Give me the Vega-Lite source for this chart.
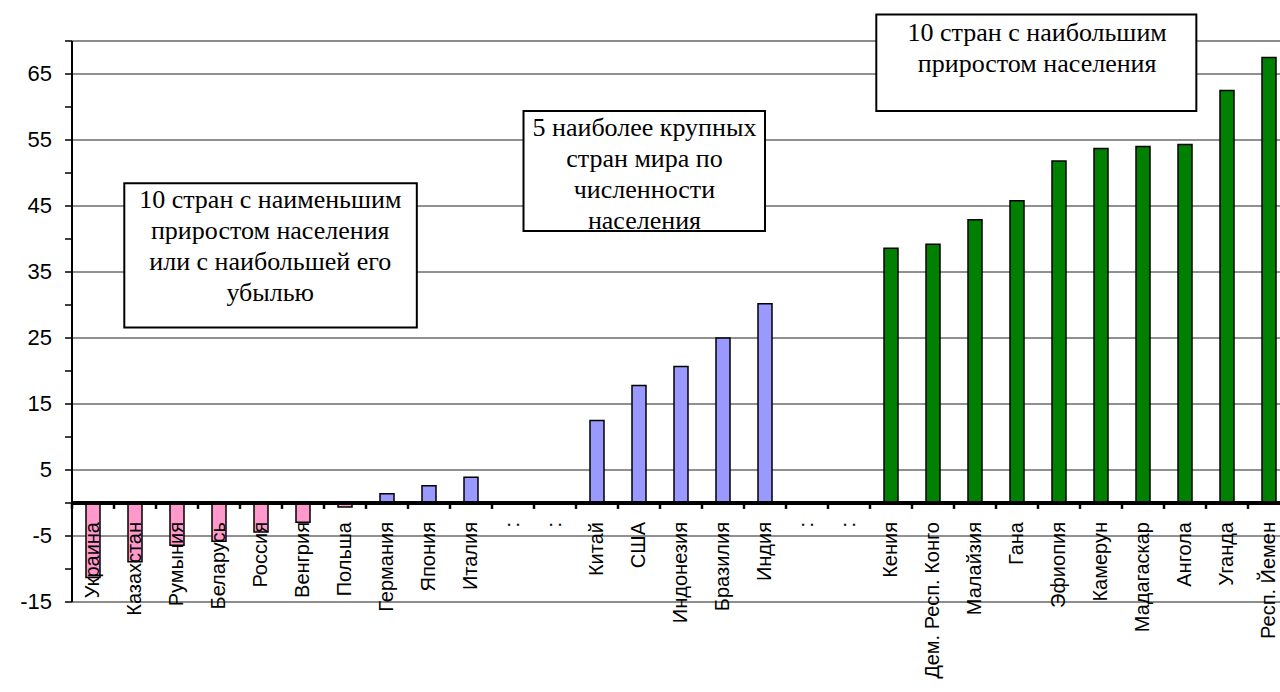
{
  "$schema": "https://vega.github.io/schema/vega-lite/v6.json",
  "width": 1218,
  "height": 561,
  "padding": {"left": 20, "top": 13, "right": 0, "bottom": 0},
  "background": "white",
  "config": {"view": {"stroke": null}},
  "datasets": {
    "countries": [
      {"country": "Украина", "value": -11.3, "group": "neg"},
      {"country": "Казахстан", "value": -8.9, "group": "neg"},
      {"country": "Румыния", "value": -6.4, "group": "neg"},
      {"country": "Беларусь", "value": -5.8, "group": "neg"},
      {"country": "Россия", "value": -4.4, "group": "neg"},
      {"country": "Венгрия", "value": -2.9, "group": "neg"},
      {"country": "Польша", "value": -0.6, "group": "neg"},
      {"country": "Германия", "value": 1.4, "group": "pos"},
      {"country": "Япония", "value": 2.6, "group": "pos"},
      {"country": "Италия", "value": 3.9, "group": "pos"},
      {"country": ":", "value": null, "group": "gap"},
      {"country": ":\u200b", "value": null, "group": "gap"},
      {"country": "Китай", "value": 12.5, "group": "pos"},
      {"country": "США", "value": 17.8, "group": "pos"},
      {"country": "Индонезия", "value": 20.7, "group": "pos"},
      {"country": "Бразилия", "value": 25.0, "group": "pos"},
      {"country": "Индия", "value": 30.2, "group": "pos"},
      {"country": ":\u200b\u200b", "value": null, "group": "gap"},
      {"country": ":\u200b\u200b\u200b", "value": null, "group": "gap"},
      {"country": "Кения", "value": 38.6, "group": "top"},
      {"country": "Дем. Респ. Конго", "value": 39.2, "group": "top"},
      {"country": "Малайзия", "value": 42.9, "group": "top"},
      {"country": "Гана", "value": 45.8, "group": "top"},
      {"country": "Эфиопия", "value": 51.8, "group": "top"},
      {"country": "Камерун", "value": 53.7, "group": "top"},
      {"country": "Мадагаскар", "value": 54.0, "group": "top"},
      {"country": "Ангола", "value": 54.3, "group": "top"},
      {"country": "Уганда", "value": 62.5, "group": "top"},
      {"country": "Респ. Йемен", "value": 67.5, "group": "top"}
    ],
    "yticks": [
      {"v": -15, "label": "-15"}, {"v": -10, "label": ""}, {"v": -5, "label": "-5"}, {"v": 0, "label": ""},
      {"v": 5, "label": "5"}, {"v": 10, "label": ""}, {"v": 15, "label": "15"}, {"v": 20, "label": ""},
      {"v": 25, "label": "25"}, {"v": 30, "label": ""}, {"v": 35, "label": "35"}, {"v": 40, "label": ""},
      {"v": 45, "label": "45"}, {"v": 50, "label": ""}, {"v": 55, "label": "55"}, {"v": 60, "label": ""},
      {"v": 65, "label": "65"}, {"v": 70, "label": ""}
    ],
    "notes": [
      {"x1": 1.245, "x2": 8.21, "top": 48.45, "bottom": 26.6, "tx": 4.72, "ty": 44.67, "label": "10 стран с наименьшим\nприростом населения\nили с наибольшей его\nубылью"},
      {"x1": 10.75, "x2": 16.5, "top": 59.4, "bottom": 41.2, "tx": 13.63, "ty": 55.6, "label": "5 наиболее крупных\nстран мира по\nчисленности\nнаселения"},
      {"x1": 19.15, "x2": 26.77, "top": 74.0, "bottom": 59.4, "tx": 22.98, "ty": 70.0, "label": "10 стран с наибольшим\nприростом населения"}
    ]
  },
  "layer": [
    {
      "data": {"name": "countries"},
      "layer": [
        {
          "data": {"name": "yticks"},
          "transform": [{"filter": "datum.label != '' || datum.v == 70"}],
          "mark": {"type": "rule"},
          "encoding": {
            "y": {"field": "v", "type": "quantitative", "axis": null, "scale": {"domain": [-15, 70], "nice": false, "zero": false}},
            "color": {"condition": {"test": "datum.v == -15 || datum.v == 70", "value": "#8c8c8c"}, "value": "#222222"},
            "strokeWidth": {"condition": {"test": "datum.v == -15 || datum.v == 70", "value": 2}, "value": 1}
          }
        },
        {
          "mark": {"type": "bar", "stroke": "black", "strokeWidth": 1.5, "size": 14},
          "encoding": {
            "x": {
              "field": "country",
              "type": "nominal",
              "sort": null,
              "title": null,
              "scale": {
                "domain": ["Украина", "Казахстан", "Румыния", "Беларусь", "Россия", "Венгрия", "Польша", "Германия", "Япония", "Италия", ":", ":\u200b", "Китай", "США", "Индонезия", "Бразилия", "Индия", ":\u200b\u200b", ":\u200b\u200b\u200b", "Кения", "Дем. Респ. Конго", "Малайзия", "Гана", "Эфиопия", "Камерун", "Мадагаскар", "Ангола", "Уганда", "Респ. Йемен"],
                "paddingInner": 0,
                "paddingOuter": 0
              },
              "axis": null
            },
            "y": {"field": "value", "type": "quantitative", "axis": null, "scale": {"domain": [-15, 70], "nice": false, "zero": false}},
            "fill": {
              "field": "group",
              "type": "nominal",
              "scale": {"domain": ["neg", "pos", "top"], "range": ["#FF99CC", "#9999FF", "#008000"]},
              "legend": null
            }
          }
        },
        {
          "mark": {"type": "rule", "color": "black", "strokeWidth": 2.5},
          "encoding": {
            "x": {"field": "country", "type": "nominal", "sort": null, "bandPosition": 0, "axis": null},
            "y": {"datum": 0, "type": "quantitative", "axis": null},
            "y2": {"datum": -0.9}
          }
        },
        {
          "mark": {"type": "rule", "color": "black", "strokeWidth": 3},
          "encoding": {"y": {"datum": 0, "type": "quantitative", "axis": null}}
        },
        {
          "mark": {"type": "text", "font": "Liberation Sans", "fontSize": 20, "angle": 270, "align": "right", "baseline": "middle", "dx": -19, "color": "black"},
          "encoding": {
            "x": {"field": "country", "type": "nominal", "sort": null, "axis": null},
            "y": {"datum": 0, "type": "quantitative", "axis": null},
            "text": {"field": "country", "type": "nominal"}
          }
        }
      ]
    },
    {
      "data": {"name": "notes"},
      "layer": [
        {
          "data": {"name": "yticks"},
          "mark": {"type": "rule", "color": "black", "strokeWidth": 1.5},
          "encoding": {
            "x": {"datum": -0.167, "type": "quantitative", "axis": null, "scale": {"domain": [0, 29], "nice": false, "zero": false}},
            "x2": {"datum": 0},
            "y": {"field": "v", "type": "quantitative", "axis": null}
          }
        },
        {
          "mark": {"type": "rule", "color": "black", "strokeWidth": 2},
          "encoding": {
            "x": {"datum": 0, "type": "quantitative", "axis": null},
            "y": {"datum": -15, "type": "quantitative", "axis": null},
            "y2": {"datum": 70}
          }
        },
        {
          "data": {"name": "yticks"},
          "transform": [{"filter": "datum.label != ''"}],
          "mark": {"type": "text", "font": "Liberation Sans", "fontSize": 22, "align": "right", "baseline": "middle", "dx": -20, "color": "black"},
          "encoding": {
            "x": {"datum": 0, "type": "quantitative", "axis": null},
            "y": {"field": "v", "type": "quantitative", "axis": null},
            "text": {"field": "label", "type": "nominal"}
          }
        },
        {
          "mark": {"type": "rect", "fill": "white", "stroke": "black", "strokeWidth": 2},
          "encoding": {
            "x": {"field": "x1", "type": "quantitative", "axis": null},
            "x2": {"field": "x2"},
            "y": {"field": "top", "type": "quantitative", "axis": null},
            "y2": {"field": "bottom"}
          }
        },
        {
          "mark": {"type": "text", "font": "Liberation Serif", "fontSize": 26, "lineBreak": "\n", "lineHeight": 31, "align": "center", "baseline": "alphabetic", "color": "black"},
          "encoding": {
            "x": {"field": "tx", "type": "quantitative", "axis": null},
            "y": {"field": "ty", "type": "quantitative", "axis": null},
            "text": {"field": "label", "type": "nominal"}
          }
        }
      ]
    }
  ],
  "resolve": {"scale": {"x": "independent"}}
}
